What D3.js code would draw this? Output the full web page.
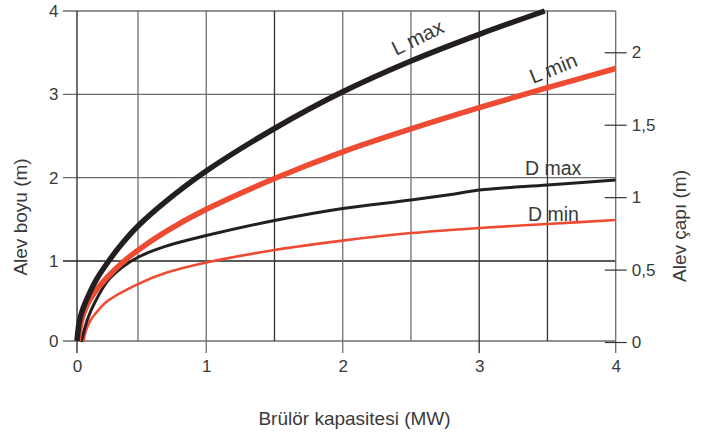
<!DOCTYPE html>
<html><head><meta charset="utf-8">
<script src="https://cdn.jsdelivr.net/npm/d3@7"></script>
<style>
body{margin:0;background:#fff}
svg{display:block}
text{font-family:"Liberation Sans",Arial,sans-serif;fill:#3a3a3a}
</style>
</head><body>
<svg id="c" width="705" height="434"></svg>
<script>
// ---- data ----
const xTicks = [0, 1, 2, 3, 4];
const xGrid = [0.5, 1, 1.5, 2, 2.5, 3, 3.5];
const yTicks = [0, 1, 2, 3, 4];
const rTicks = [0, 0.5, 1, 1.5, 2];
const rTickLabels = ["0", "0,5", "1", "1,5", "2"];

// Alev boyu (m) – left axis
const lMaxX = [0, 0.02, 0.05, 0.1, 0.16, 0.26, 0.37, 0.5, 0.7, 1, 1.5, 2, 2.5, 3, 3.48];
const lMaxY = [0, 0.25, 0.41, 0.59, 0.77, 1.0, 1.21, 1.42, 1.71, 2.08, 2.59, 3.03, 3.4, 3.72, 4.0];
const lMinX = [0.011, 0.03, 0.06, 0.1, 0.16, 0.25, 0.38, 0.5, 0.7, 1, 1.5, 2, 2.5, 3, 3.5, 4];
const lMinY = [0, 0.21, 0.37, 0.5, 0.64, 0.8, 0.99, 1.13, 1.35, 1.62, 1.99, 2.31, 2.585, 2.84, 3.08, 3.31];
// Alev çapı (m) – right axis
const dMaxX = [0.035, 0.057, 0.09, 0.148, 0.25, 0.37, 0.5, 0.7, 1, 1.5, 2, 2.5, 2.82, 3, 3.5, 4];
const dMaxY = [0, 0.076, 0.166, 0.276, 0.42, 0.515, 0.585, 0.66, 0.735, 0.839, 0.922, 0.98, 1.022, 1.049, 1.084, 1.118];
const dMinX = [0.052, 0.074, 0.107, 0.148, 0.25, 0.5, 0.7, 1, 1.5, 2, 2.5, 3, 3.5, 4];
const dMinY = [0, 0.083, 0.145, 0.193, 0.283, 0.4, 0.476, 0.549, 0.635, 0.70, 0.752, 0.787, 0.815, 0.842];

const seriesLabels = ["L max", "L min", "D max", "D min"];

// ---- scales ----
const svg = d3.select("#c");
const x = d3.scaleLinear().domain([0, 0.5, 4]).range([77, 138, 615.7]);
const y = d3.scaleLinear().domain([0, 1, 4]).range([341, 261, 11]);
const yR = d3.scaleLinear().domain([0, 2]).range([342, 52.3]);

const grid = svg.append("g");
grid.selectAll("line.h").data(yTicks).join("line")
  .attr("x1", 63).attr("x2", x(4))
  .attr("y1", d => y(d)).attr("y2", d => y(d))
  .attr("stroke", d => d === 1 ? "#222" : "#6e6e6e")
  .attr("stroke-width", 1.3);
grid.selectAll("line.v").data(xGrid).join("line")
  .attr("x1", d => x(d)).attr("x2", d => x(d))
  .attr("y1", y(4)).attr("y2", d => Number.isInteger(d) ? 353 : y(0))
  .attr("stroke", d => (d === 1.5 || d === 3 || d === 3.5) ? "#333" : "#6e6e6e")
  .attr("stroke-width", 1.3);
grid.append("line").attr("x1", x(0)).attr("x2", x(0)).attr("y1", y(4)).attr("y2", 353)
  .attr("stroke", "#222").attr("stroke-width", 1.3);
grid.append("line").attr("x1", x(4)).attr("x2", x(4)).attr("y1", y(4)).attr("y2", 353)
  .attr("stroke", "#6e6e6e").attr("stroke-width", 1.3);

const tickFont = g => g.selectAll("text").attr("font-size", 17).attr("fill", "#3a3a3a")
  .attr("font-family", "Liberation Sans, Arial, sans-serif");

const gy = svg.append("g").attr("transform", "translate(58.5,0)")
  .call(d3.axisLeft(y).tickValues(yTicks).tickSize(0).tickPadding(0).tickFormat(d3.format("d")));
gy.select(".domain").remove(); tickFont(gy);

const gx = svg.append("g").attr("transform", "translate(0,360)")
  .call(d3.axisBottom(x).tickValues(xTicks).tickSize(0).tickPadding(0).tickFormat(d3.format("d")));
gx.select(".domain").remove(); tickFont(gx);

const gr = svg.append("g").attr("transform", `translate(${x(4)},0)`)
  .call(d3.axisRight(yR).tickValues(rTicks).tickSize(11).tickPadding(5).tickFormat((d, i) => rTickLabels[i]));
gr.select(".domain").remove();
gr.selectAll(".tick line").attr("x1", -11).attr("stroke", "#333").attr("stroke-width", 1.2);
tickFont(gr);

// ---- lines ----
const curve = d3.curveCatmullRom.alpha(0.5);
const lineL = d3.line().x(d => x(d[0])).y(d => y(d[1])).curve(curve);
const lineD = d3.line().x(d => x(d[0])).y(d => yR(d[1])).curve(curve);
const zip = (a, b) => a.map((v, i) => [v, b[i]]);

const black = "#231f20", red = "#ef4a32";
svg.append("path").datum(zip(dMinX, dMinY)).attr("d", lineD)
  .attr("fill", "none").attr("stroke", red).attr("stroke-width", 2.6);
svg.append("path").datum(zip(dMaxX, dMaxY)).attr("d", lineD)
  .attr("fill", "none").attr("stroke", black).attr("stroke-width", 3);
svg.append("path").datum(zip(lMinX, lMinY)).attr("d", lineL)
  .attr("fill", "none").attr("stroke", red).attr("stroke-width", 5.5);
svg.append("path").datum(zip(lMaxX, lMaxY)).attr("d", lineL)
  .attr("fill", "none").attr("stroke", black).attr("stroke-width", 5.5);

// ---- series labels ----
const lab = svg.append("g");
lab.append("text").attr("font-size", 20.5).attr("transform", "translate(396,56) rotate(-26)").text(seriesLabels[0]);
lab.append("text").attr("font-size", 20.5).attr("transform", "translate(533,84) rotate(-22)").text(seriesLabels[1]);
lab.append("text").attr("font-size", 19.5).attr("x", 525).attr("y", 175).text(seriesLabels[2]);
lab.append("text").attr("font-size", 19.5).attr("x", 528).attr("y", 221).text(seriesLabels[3]);

// ---- axis titles ----
svg.append("text").attr("transform", "translate(27,217) rotate(-90)")
  .attr("text-anchor", "middle").attr("font-size", 19).text("Alev boyu (m)");
svg.append("text").attr("transform", "translate(686,226) rotate(-90)")
  .attr("text-anchor", "middle").attr("font-size", 19).text("Alev çapı (m)");
svg.append("text").attr("x", 354.5).attr("y", 425)
  .attr("text-anchor", "middle").attr("font-size", 19).text("Brülör kapasitesi (MW)");
</script>
</body></html>
